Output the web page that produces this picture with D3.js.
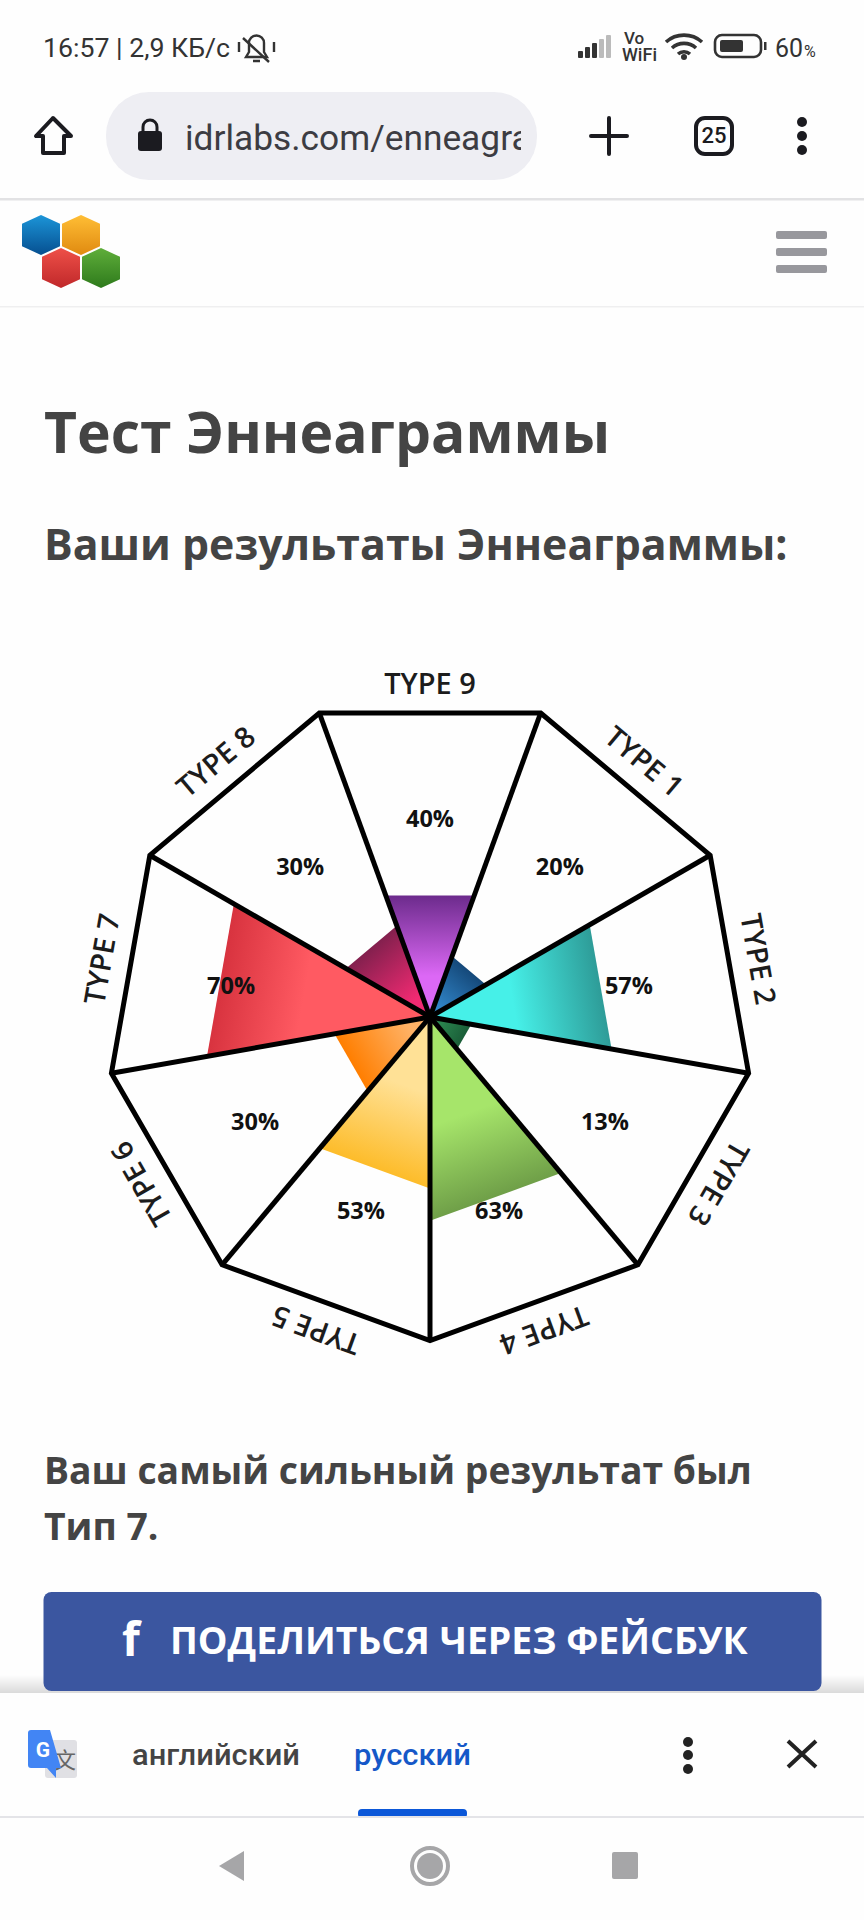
<!DOCTYPE html>
<html><head><meta charset="utf-8">
<script src="https://cdn.jsdelivr.net/npm/d3@7/dist/d3.min.js"></script>
<style>html,body{margin:0;padding:0;background:#fefefe}svg{display:block}</style>
</head><body><div id="c"></div>
<script>
const types = ["TYPE 1","TYPE 2","TYPE 3","TYPE 4","TYPE 5","TYPE 6","TYPE 7","TYPE 8","TYPE 9"];
const values = [20,57,13,63,53,30,70,30,40];
const innerColors = ["#3288cc","#46f0e8","#2f8f55","#a6e56a","#ffe196","#ffb266","#ff5a62","#f22a72","#dc68f5"];
const outerColors = ["#15497a","#2e9c98","#1a5e38","#6f9f48","#fdbc2a","#ff7e00","#d8333f","#83204e","#6c2b8c"];

const W=864,H=1920,cx=430,cy=1017,R=323.5,ink="#000";
const svg=d3.select("#c").append("svg").attr("width",W).attr("height",H);
svg.append("rect").attr("width",W).attr("height",H).attr("fill","#fefefe");
const defs=svg.append("defs");
const OS="'Open Sans',sans-serif", RB="Roboto,sans-serif";
function txt(g,s,x,y,size,weight,fill,font,anchor){
  return g.append("text").attr("x",x).attr("y",y).attr("font-size",size).attr("font-weight",weight)
    .attr("fill",fill).attr("font-family",font||OS).attr("text-anchor",anchor||"start").text(s);
}

/* chart */
const step=360/types.length, rad=d=>d*Math.PI/180;
const angle=d3.scaleBand().domain(types).range([20,380]);
const radius=d3.scaleLinear().domain([0,100]).range([0,R]);
const lightStop=d3.scaleLinear().domain([13,70]).range([0.1,0.6]);
const pt=(a,r)=>[cx+r*Math.sin(rad(a)),cy-r*Math.cos(rad(a))];
const apothem=R*Math.cos(rad(step/2));
const chart=svg.append("g");
types.forEach((t,i)=>{
  const a0=angle(t),mid=a0+step/2,r=radius(values[i]),e=pt(mid,r*Math.cos(rad(step/2)));
  const g=defs.append("linearGradient").attr("id","g"+i).attr("gradientUnits","userSpaceOnUse")
    .attr("x1",cx).attr("y1",cy).attr("x2",e[0]).attr("y2",e[1]);
  g.append("stop").attr("offset",lightStop(values[i])).attr("stop-color",innerColors[i]);
  g.append("stop").attr("offset",1).attr("stop-color",outerColors[i]);
  chart.append("path").attr("d",d3.line()([[cx,cy],pt(a0,r),pt(a0+step,r)])+"Z").attr("fill",`url(#g${i})`);
});
const frame=types.map(t=>pt(angle(t),R));
chart.selectAll("line.spoke").data(frame).join("line").attr("x1",cx).attr("y1",cy)
  .attr("x2",d=>d[0]).attr("y2",d=>d[1]).attr("stroke",ink).attr("stroke-width",5);
chart.append("path").attr("d",d3.line()(frame)+"Z").attr("fill","none").attr("stroke",ink)
  .attr("stroke-width",5).attr("stroke-linejoin","miter");
types.forEach((t,i)=>{
  const mid=angle(t)+step/2,p=pt(mid,202);
  txt(chart,values[i]+"%",p[0],p[1]+12.4,23.5,700,"#111",OS,"middle");
  const q=pt(mid,apothem+19);
  txt(chart,t,q[0],q[1],29,600,"#1c1c1c",OS,"middle").attr("transform",`rotate(${mid} ${q[0]} ${q[1]})`);
});

/* page text */
const page=svg.append("g");
txt(page,"Тест Эннеаграммы",44,453,57,700,"#444");
txt(page,"Ваши результаты Эннеаграммы:",44,560,42.8,700,"#444");
txt(page,"Ваш самый сильный результат был",44,1484,37.3,700,"#444");
txt(page,"Тип 7.",44,1540,37.3,700,"#444");

/* logo + menu */
const hex=(x,y,w,h,c1,c2,id)=>{
  const g=defs.append("linearGradient").attr("id",id).attr("x1",0).attr("y1",0).attr("x2",0).attr("y2",1);
  g.append("stop").attr("offset",0).attr("stop-color",c1);g.append("stop").attr("offset",1).attr("stop-color",c2);
  page.append("path").attr("d",d3.line()([[x+w/2,y],[x+w,y+h*.22],[x+w,y+h*.78],[x+w/2,y+h],[x,y+h*.78],[x,y+h*.22]])+"Z").attr("fill",`url(#${id})`);
};
hex(22,215,38,40,"#1c95d8","#064f90","h1");
hex(62,215,38,40,"#ffbe35","#e08a10","h2");
hex(42,248,38,40,"#ee5048","#c0282a","h3");
hex(82,248,38,40,"#5fae3a","#2e7a1c","h4");
[231,248,265].forEach(y=>page.append("rect").attr("x",776).attr("y",y).attr("width",51).attr("height",8).attr("rx",2).attr("fill","#98989d"));
page.append("rect").attr("y",198).attr("width",W).attr("height",2.5).attr("fill","#e2e2e4");
page.append("rect").attr("y",306).attr("width",W).attr("height",1.5).attr("fill","#efeff0");

/* status bar */
const st=svg.append("g"),dk="#333";
txt(st,"16:57 | 2,9 КБ/с",43,57,26,400,dk,RB).attr("textLength",187).attr("lengthAdjust","spacingAndGlyphs");
st.append("path").attr("d","M246 57h21l-3-5v-9a7.5 7.5 0 0 0-15 0v9zM253 61h7").attr("fill","none").attr("stroke",dk).attr("stroke-width",2.4);
st.append("path").attr("d","M243 38l26 24M239 42v10M274 42v10").attr("fill","none").attr("stroke",dk).attr("stroke-width",2.4);
[[578,51,"#333"],[585,47,"#333"],[592,43,"#333"],[599,39,"#bbb"],[606,35,"#bbb"]].forEach(d=>
  st.append("rect").attr("x",d[0]).attr("y",d[1]).attr("width",5).attr("height",58-d[1]).attr("rx",1).attr("fill",d[2]));
txt(st,"Vo",624,44,17,500,dk,RB);
txt(st,"WiFi",622,61,18,500,dk,RB).attr("textLength",35);
st.append("path").attr("d","M666 42a27 27 0 0 1 36 0M672 48a18 18 0 0 1 24 0M678 54a9 9 0 0 1 12 0").attr("fill","none").attr("stroke",dk).attr("stroke-width",3.6);
st.append("circle").attr("cx",684).attr("cy",57).attr("r",3).attr("fill",dk);
st.append("rect").attr("x",715).attr("y",35).attr("width",46).attr("height",22).attr("rx",7).attr("fill","none").attr("stroke",dk).attr("stroke-width",2.6);
st.append("rect").attr("x",720).attr("y",40).attr("width",23).attr("height",12).attr("rx",2).attr("fill",dk);
st.append("rect").attr("x",764).attr("y",42).attr("width",2.5).attr("height",8).attr("fill",dk);
txt(st,"60",775,57,25,400,dk,RB).attr("textLength",28).attr("lengthAdjust","spacingAndGlyphs");
txt(st,"%",804,57,16,400,dk,RB);

/* browser bar */
const br=svg.append("g"),bk="#1b1b20";
br.append("rect").attr("x",106).attr("y",92).attr("width",431).attr("height",88).attr("rx",43).attr("fill","#eeeef3");
br.append("path").attr("d","M53 118L36 136H43V153H64V136H71Z").attr("fill","none").attr("stroke",bk).attr("stroke-width",4).attr("stroke-linejoin","round");
br.append("rect").attr("x",138).attr("y",131).attr("width",24).attr("height",20).attr("rx",3).attr("fill",bk);
br.append("path").attr("d","M143 132v-5a7 7 0 0 1 14 0v5").attr("fill","none").attr("stroke",bk).attr("stroke-width",3);
defs.append("clipPath").attr("id","url").append("rect").attr("x",180).attr("y",92).attr("width",341).attr("height",88);
txt(br,"idrlabs.com/enneagram",185,150,35.3,400,"#3c3c42",RB).attr("clip-path","url(#url)");
br.append("path").attr("d","M591 136H627M609 118V154").attr("stroke",bk).attr("stroke-width",4).attr("stroke-linecap","round");
br.append("rect").attr("x",696).attr("y",118).attr("width",36).attr("height",36).attr("rx",9).attr("fill","none").attr("stroke",bk).attr("stroke-width",4);
txt(br,"25",714,143,22,500,bk,RB,"middle");
[122,136,150].forEach(y=>br.append("circle").attr("cx",802).attr("cy",y).attr("r",5).attr("fill",bk));

/* share button */
const sh=defs.append("linearGradient").attr("id","shd").attr("x1",0).attr("y1",0).attr("x2",0).attr("y2",1);
sh.append("stop").attr("offset",0).attr("stop-color","#fefefe");sh.append("stop").attr("offset",1).attr("stop-color","#d8d8d8");
const bt=svg.append("g");
bt.append("rect").attr("y",1675).attr("width",W).attr("height",19).attr("fill","url(#shd)");
bt.append("rect").attr("x",43.5).attr("y",1592).attr("width",778).attr("height",99).attr("rx",8).attr("fill","#3b56a0");
txt(bt,"f",122,1656,46,700,"#fff",OS);
txt(bt,"ПОДЕЛИТЬСЯ ЧЕРЕЗ ФЕЙСБУК",170,1654,37.4,700,"#fff");

/* translate bar */
const tr=svg.append("g");
tr.append("rect").attr("y",1693).attr("width",W).attr("height",227).attr("fill","#fefefe");
tr.append("rect").attr("x",45).attr("y",1740).attr("width",32).attr("height",38).attr("rx",3).attr("fill","#e0e0e4");
txt(tr,"文",65,1768,22,400,"#666","'Noto Sans CJK SC'","middle");
tr.append("path").attr("d","M31 1730H50L61 1768H56L56 1778L47 1768H31a3 3 0 0 1-3-3V1733a3 3 0 0 1 3-3Z").attr("fill","#4285f4");
txt(tr,"G",43,1757,21,700,"#fff",RB,"middle");
txt(tr,"английский",132,1765,29,500,"#444",RB).attr("textLength",168).attr("lengthAdjust","spacingAndGlyphs");
txt(tr,"русский",354,1765,29,500,"#1558c8",RB).attr("textLength",117).attr("lengthAdjust","spacingAndGlyphs");
[1742,1755,1769].forEach(y=>tr.append("circle").attr("cx",688).attr("cy",y).attr("r",5).attr("fill","#222"));
tr.append("path").attr("d","M788 1741L816 1767M816 1741L788 1767").attr("stroke","#222").attr("stroke-width",4);
tr.append("rect").attr("x",358).attr("y",1809).attr("width",109).attr("height",9).attr("rx",4).attr("fill","#0b57d8");
tr.append("rect").attr("y",1816).attr("width",W).attr("height",2).attr("fill","#e4e4e8");
const g9="#a6a6a8";
tr.append("path").attr("d","M244 1851V1881L219 1866Z").attr("fill",g9);
tr.append("circle").attr("cx",430).attr("cy",1866).attr("r",18).attr("fill","none").attr("stroke",g9).attr("stroke-width",4);
tr.append("circle").attr("cx",430).attr("cy",1866).attr("r",13).attr("fill",g9);
tr.append("rect").attr("x",612).attr("y",1852).attr("width",26).attr("height",27).attr("rx",2).attr("fill",g9);
</script></body></html>
